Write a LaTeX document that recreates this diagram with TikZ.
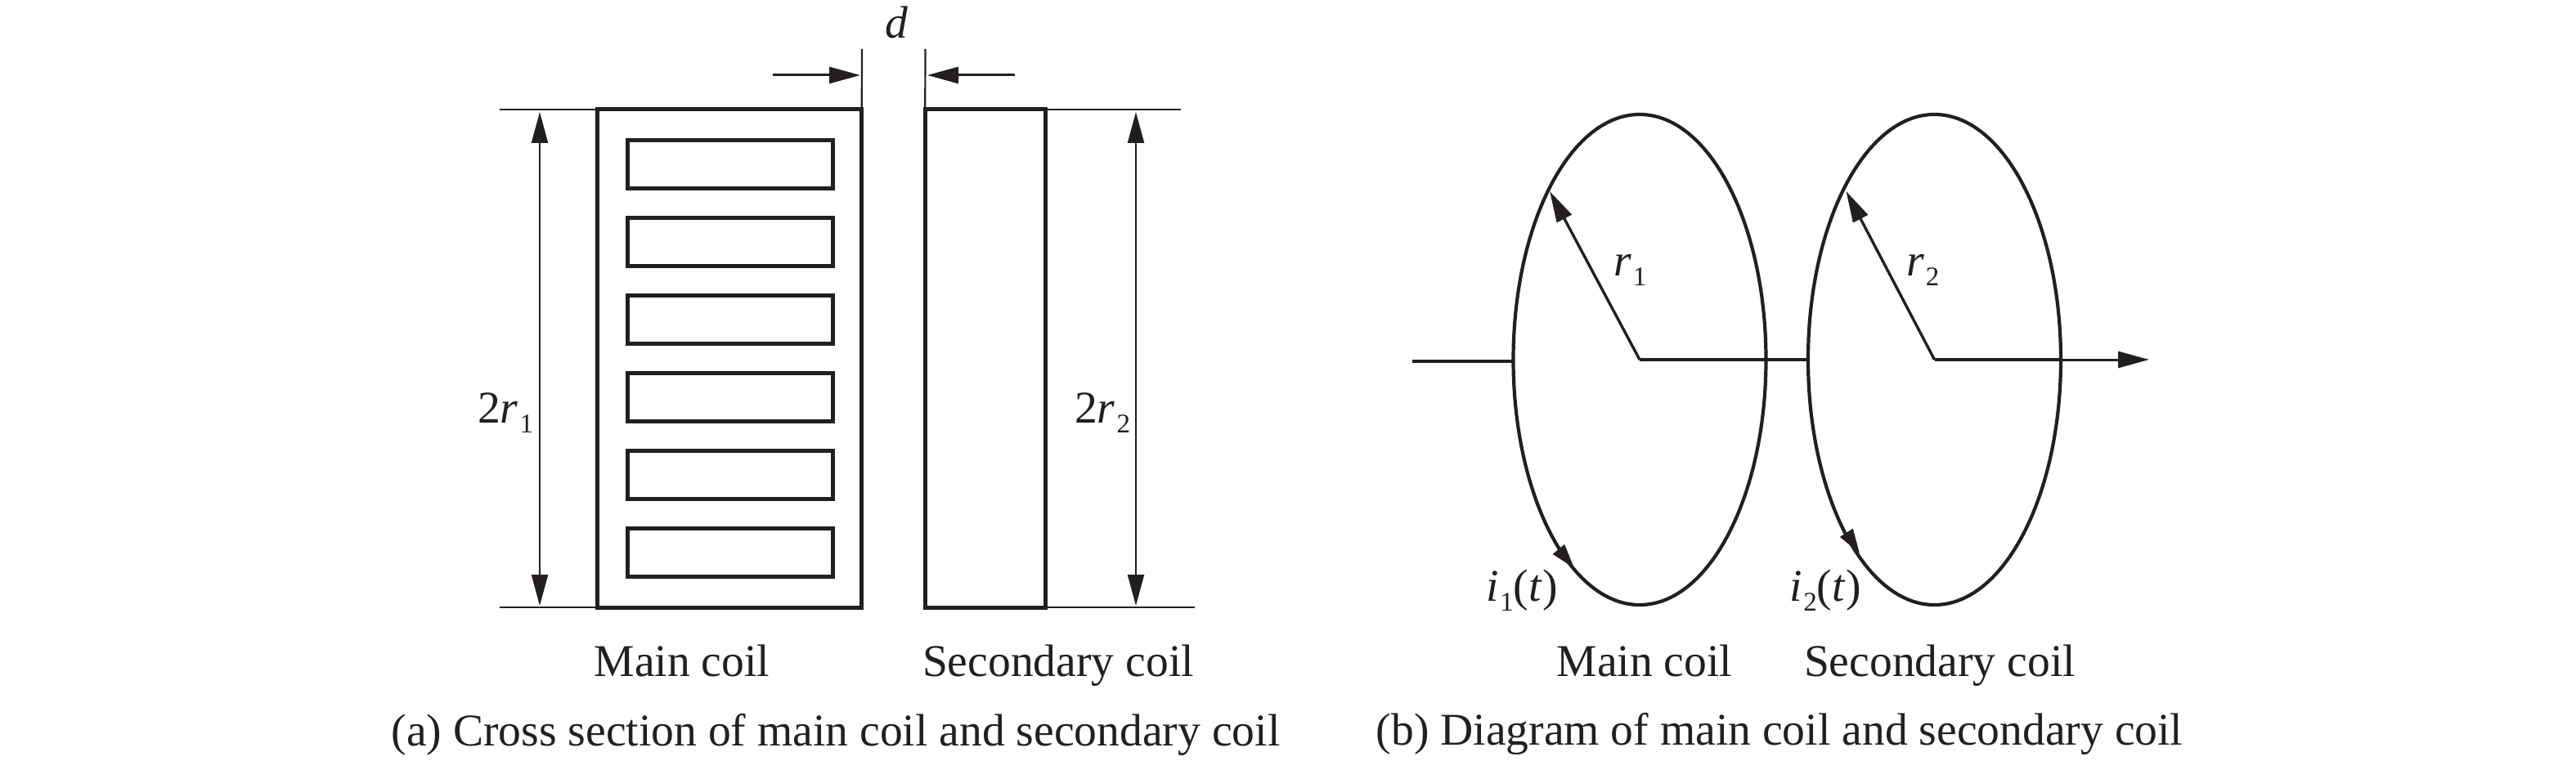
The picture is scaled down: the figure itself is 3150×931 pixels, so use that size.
\documentclass[tikz,border=0pt]{standalone}
\usepackage{fontspec}
\setmainfont{Liberation Serif}
\usetikzlibrary{arrows.meta,shapes.geometric}
\definecolor{inkblack}{HTML}{231F20}
\newcommand{\subidx}[1]{\kern1pt\raisebox{-6pt}{\fontsize{16.5}{18}\selectfont #1}}
\tikzset{
	txt/.style={inner sep=0pt,outer sep=0pt,text=inkblack,font=\fontsize{27.8}{30}\selectfont},
	coilbox/.style={draw=inkblack,line width=2.5pt,inner sep=0pt,outer sep=0pt},
	coilloop/.style={draw=inkblack,line width=2.1pt,ellipse,inner sep=0pt,outer sep=0pt,minimum width=154.5pt,minimum height=300pt},
	guide/.style={draw=inkblack,line width=1.1pt},
	dimarrow/.style={draw=inkblack,line width=1.1pt,{Stealth[inset=0pt,length=19pt,width=10pt]}-{Stealth[inset=0pt,length=19pt,width=10pt]}},
	gaparrow/.style={draw=inkblack,line width=1.5pt,-{Stealth[inset=0pt,length=19pt,width=10pt]}},
	radarrow/.style={draw=inkblack,line width=1.7pt,-{Stealth[inset=0pt,length=19pt,width=10pt]}},
	curarrow/.style={draw=inkblack,line width=1.5pt,-{Stealth[inset=0pt,length=15pt,width=9pt]}},
	axisline/.style={draw=inkblack,line width=2.2pt}
}
\begin{document}
\begin{tikzpicture}[x=.5pt,y=-.5pt]
	\useasboundingbox (0,0) rectangle (3150,931);
	\node[coilbox,minimum width=161.75pt,minimum height=304.5pt] (mainbox) at (892,438.5) {};
	\node[coilbox,minimum width=73.75pt,minimum height=304.5pt] (secbox) at (1205,438.5) {};
	\foreach \i in {0,1,2,3,4,5}{
		\node[coilbox,minimum width=125.5pt,minimum height=29.5pt] (turn\i) at (892.5,201+95*\i) {};
	}
	\coordinate (topl) at (611,134);
	\coordinate (topr) at (1444,134);
	\coordinate (botl) at (611,743);
	\coordinate (botr) at (1461,743);
	\coordinate (extl) at (1054,60);
	\coordinate (extr) at (1131.5,60);
	\draw[guide] (topl) -- (mainbox.north west);
	\draw[guide] (secbox.north east) -- (topr);
	\draw[guide] (botl) -- (mainbox.south west);
	\draw[guide] (secbox.south east) -- (botr);
	\draw[guide] (extl) -- (mainbox.north east);
	\draw[guide] (extr) -- (secbox.north west);
	\coordinate (gapl) at (945,92);
	\coordinate (gapltip) at (1052,92);
	\coordinate (gapr) at (1241,92);
	\coordinate (gaprtip) at (1134,92);
	\draw[gaparrow] (gapl) -- (gapltip);
	\draw[gaparrow] (gapr) -- (gaprtip);
	\coordinate (dima) at (660,137);
	\coordinate (dimb) at (660,741);
	\coordinate (dimc) at (1389,137);
	\coordinate (dimd) at (1389,741);
	\draw[dimarrow] (dima) -- (dimb);
	\draw[dimarrow] (dimc) -- (dimd);
	\node[txt,anchor=base] (gaplabel) at (1096,47) {\textit{d}};
	\node[txt,anchor=base west] (diamlabela) at (584,517) {2\textit{r}\subidx{1}};
	\node[txt,anchor=base west] (diamlabelb) at (1314,517) {2\textit{r}\subidx{2}};
	\node[txt,anchor=base] (mainlabela) at (834,827) {Main coil};
	\node[txt,anchor=base] (seclabela) at (1294,827) {Secondary coil};
	\node[txt,anchor=base] (captiona) at (1022,912) {(a) Cross section of main coil and secondary coil};
	\node[coilloop] (loopa) at (2005,440) {};
	\node[coilloop] (loopb) at (2365.5,440) {};
	\coordinate (leadin) at (1727,442);
	\coordinate (tipa) at (1895,234);
	\coordinate (tipb) at (2257.5,234);
	\coordinate (axisend) at (2628,440);
	\draw[axisline] (leadin) -- (loopa.west |- leadin);
	\draw[axisline] (loopa.center) -- (loopb.west);
	\draw[axisline] (loopb.center) -- (loopb.east);
	\draw[gaparrow] (loopb.east) -- (axisend);
	\draw[radarrow] (loopa.center) -- (tipa);
	\draw[radarrow] (loopb.center) -- (tipb);
	\coordinate (taila) at (1906,672);
	\coordinate (curtipa) at (1925,695);
	\coordinate (tailb) at (2258,652);
	\coordinate (curtipb) at (2274,677);
	\draw[curarrow] (taila) -- (curtipa);
	\draw[curarrow] (tailb) -- (curtipb);
	\node[txt,anchor=base west] (radlabela) at (1973,337) {\textit{r}\subidx{1}};
	\node[txt,anchor=base west] (radlabelb) at (2331,337) {\textit{r}\subidx{2}};
	\node[txt,anchor=base west] (curlabela) at (1817,735) {\textit{i}\subidx{1}(\textit{t})};
	\node[txt,anchor=base west] (curlabelb) at (2188,735) {\textit{i}\subidx{2}(\textit{t})};
	\node[txt,anchor=base] (mainlabelb) at (2011,827) {Main coil};
	\node[txt,anchor=base] (seclabelb) at (2372,827) {Secondary coil};
	\node[txt,anchor=base] (captionb) at (2176,911) {(b) Diagram of main coil and secondary coil};
\end{tikzpicture}
\end{document}
